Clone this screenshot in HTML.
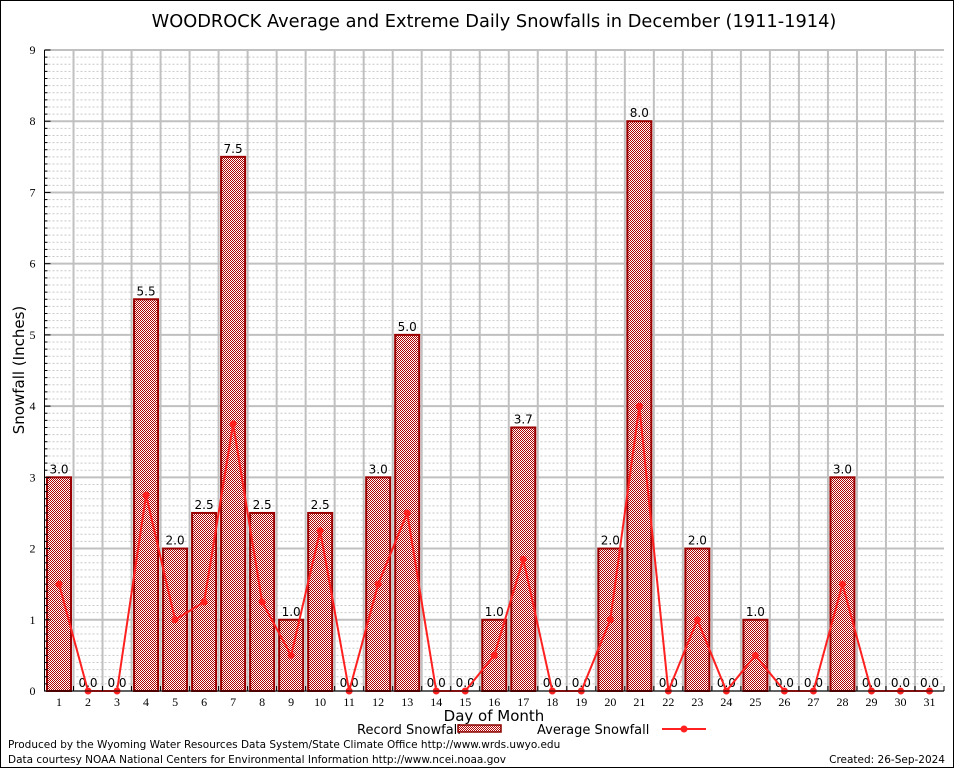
<!DOCTYPE html>
<html><head><meta charset="utf-8"><style>
body{margin:0;background:#fff;}
svg{display:block;font-family:"DejaVu Sans","Liberation Sans",sans-serif;}
</style></head><body>
<svg id="chart" width="954" height="768" viewBox="0 0 954 768">
<defs>
<pattern id="hatch" width="2" height="2" patternUnits="userSpaceOnUse">
<rect width="2" height="2" fill="#fff"/>
<rect x="0" y="0" width="1" height="1" fill="#b00000"/>
<rect x="1" y="1" width="1" height="1" fill="#b00000"/>
</pattern>
</defs>
<rect x="0.5" y="0.5" width="953" height="767" fill="#fff" stroke="#000"/>
<text x="494" y="27" font-size="17.8" text-anchor="middle">WOODROCK Average and Extreme Daily Snowfalls in December (1911-1914)</text>
<g id="grid"></g>
<g id="bars"></g>
<g id="line"></g>
<g id="axes"></g>
<text x="24" y="370" font-size="15" text-anchor="middle" transform="rotate(-90 24 370)">Snowfall (Inches)</text>
<text x="494" y="721" font-size="15" text-anchor="middle">Day of Month</text>
<g>
<text x="357" y="734" font-size="13">Record Snowfall</text>
<rect x="458" y="725" width="43" height="7" fill="url(#hatch)" stroke="#8b0000" stroke-width="1.5"/>
<text x="537" y="734" font-size="13">Average Snowfall</text>
<line x1="662" y1="729" x2="706" y2="729" stroke="#ff2020" stroke-width="2"/>
<circle cx="684" cy="729" r="3.5" fill="#ff2020"/>
</g>
<text x="8" y="748" font-size="10.5">Produced by the Wyoming Water Resources Data System/State Climate Office http://www.wrds.uwyo.edu</text>
<text x="8" y="763" font-size="10.5">Data courtesy NOAA National Centers for Environmental Information http://www.ncei.noaa.gov</text>
<text x="945" y="763" font-size="10.5" text-anchor="end">Created:  26-Sep-2024</text>
</svg>
<script>
const days = [1,2,3,4,5,6,7,8,9,10,11,12,13,14,15,16,17,18,19,20,21,22,23,24,25,26,27,28,29,30,31];
const recordSnow = [3.0,0,0,5.5,2.0,2.5,7.5,2.5,1.0,2.5,0,3.0,5.0,0,0,1.0,3.7,0,0,2.0,8.0,0,2.0,0,1.0,0,0,3.0,0,0,0];
const avgSnow = [1.5,0,0,2.75,1.0,1.25,3.75,1.25,0.5,2.25,0,1.5,2.5,0,0,0.5,1.85,0,0,1.0,4.0,0,1.0,0,0.5,0,0,1.5,0,0,0];
const yTicks = [0,1,2,3,4,5,6,7,8,9];

const NS="http://www.w3.org/2000/svg";
const L=44.5,R=944,T=50,B=691,yMax=9;
const step=(R-L)/days.length;
const x=d=>L+(d-0.5)*step;
const y=v=>B-v/yMax*(B-T);
function mk(tag,attrs,parent){const e=document.createElementNS(NS,tag);for(const k in attrs)e.setAttribute(k,attrs[k]);parent.appendChild(e);return e;}
const grid=document.getElementById('grid'),bars=document.getElementById('bars'),line=document.getElementById('line'),axes=document.getElementById('axes');

for(let m=1;m<yMax*10;m++){ if(m%10===0)continue;
 const g=mk('line',{x1:L,x2:R,y1:y(m/10),y2:y(m/10),stroke:'#c8c8c8','stroke-width':1,'stroke-dasharray':'2,2'},grid);
 
 }
yTicks.forEach(t=>{
 const g=mk('line',{x1:L,x2:R,y1:y(t),y2:y(t),stroke:'#c0c0c0','stroke-width':2},grid);
 
 
 const tx=mk('text',{x:L-9,y:y(t)+4,'font-size':12,'text-anchor':'end','font-family':'Liberation Serif, serif'},axes);
 tx.textContent=t;
 
 
 const tk=mk('line',{x1:L,x2:L+6,y1:y(t),y2:y(t),stroke:'#000'},axes);
 
 
});
for(let m=1;m<yMax*10;m++){ if(m%10===0)continue;
 const tk=mk('line',{x1:L,x2:L+3,y1:y(m/10),y2:y(m/10),stroke:'#000'},axes);
 
 }
for(let k=1;k<days.length;k++){
 const g=mk('line',{x1:L+k*step,x2:L+k*step,y1:T,y2:B,stroke:'#c0c0c0','stroke-width':2},grid);
 
 }
days.forEach((d,i)=>{
 const v=recordSnow[i];
 if(v>0){
  const r=mk('rect',{x:x(d)-12,y:y(v),width:24,height:B-y(v),fill:'url(#hatch)',stroke:'#9a0000','stroke-width':2},bars);
  
  
 }
 const lb=mk('text',{x:x(d),y:y(v)-4,'font-size':12,'text-anchor':'middle'},bars);
 lb.textContent=v.toFixed(1);
 
 
 const tx=mk('text',{x:x(d),y:B+15,'font-size':12,'text-anchor':'middle','font-family':'Liberation Serif, serif'},axes);
 tx.textContent=d;
 
 
 const tk=mk('line',{x1:L+(i+1)*step,x2:L+(i+1)*step,y1:B,y2:B-5,stroke:'#000'},axes);
 
 
});
const pl=mk('polyline',{points:days.map((d,i)=>x(d)+','+y(avgSnow[i])).join(' '),fill:'none',stroke:'#ff2020','stroke-width':2},line);


days.forEach((d,i)=>{
 const c=mk('circle',{cx:x(d),cy:y(avgSnow[i]),r:3.5,fill:'#ff2020'},line);
 
 
});
const ax=mk('path',{d:`M${L},${T} V${B} H${R}`,fill:'none',stroke:'#000','stroke-width':1},axes);


</script>
</body></html>
